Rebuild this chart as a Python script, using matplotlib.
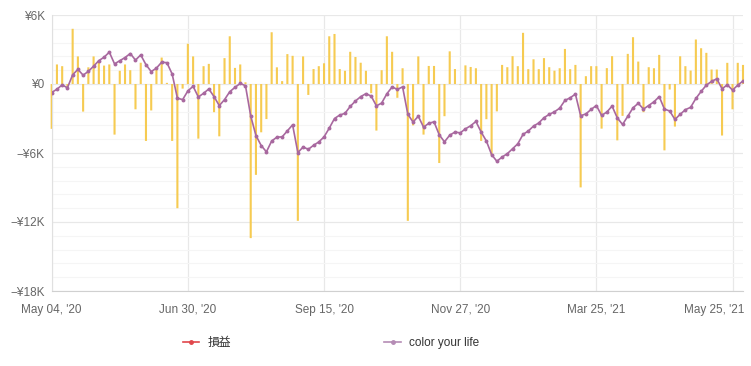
import numpy as np
import matplotlib.pyplot as plt
import matplotlib.transforms as mtransforms
from matplotlib.lines import Line2D
from matplotlib.ticker import FuncFormatter, MultipleLocator

plt.rcParams['font.family'] = ['Liberation Sans', 'Noto Sans CJK JP']

# daily P/L bars, thousand yen
daily_pnl = [
    -3.9, 1.7, 1.55, -0.4, 4.8, 2.4, -2.4, 1.45, 2.4, 2.0,
    1.6, 1.7, -4.4, 1.15, 1.7, 1.2, -2.2, 1.85, -4.95, -2.3,
    1.25, 2.3, 0.1, -4.95, -10.8, -0.4, 3.5, 2.4, -4.75, 1.55,
    1.75, -2.45, -4.55, 2.25, 4.15, 1.4, 1.7, 0.15, -13.4, -7.9,
    -4.2, -3.05, 4.5, 1.45, 0.25, 2.6, 2.45, -11.9, 2.4, -0.95,
    1.3, 1.55, 1.8, 4.15, 4.35, 1.3, 1.15, 2.8, 2.35, 1.85,
    1.15, -0.8, -4.05, 1.2, 4.15, 2.8, -1.2, 1.37, -11.9, -3.6,
    2.4, -4.4, 1.57, 1.57, -6.87, -2.8, 2.84, 1.3, -0.05, 1.62,
    1.48, 1.37, -4.95, -3.06, -6.2, -2.38, 1.66, 1.46, 2.42, 1.55,
    4.45, 1.29, 2.15, 1.29, 2.25, 1.46, 1.16, 1.37, 3.05, 1.29,
    1.66, -8.99, 0.68, 1.55, 1.55, -3.88, 1.38, 2.42, -4.9, -2.77,
    2.62, 4.07, 1.95, -2.45, 1.46, 1.37, 2.53, -5.77, -0.48, -3.7,
    2.41, 1.55, 1.17, 3.87, 3.11, 2.71, 1.26, 1.26, -4.48, 1.84,
    -2.2, 1.84, 1.66,
]

# "color your life" line, thousand yen
color_your_life = [
    -0.74, -0.45, -0.08, -0.33, 0.8, 1.27, 0.77, 1.1, 1.55, 2.03,
    2.33, 2.77, 1.75, 2.02, 2.3, 2.65, 2.08, 2.53, 1.68, 1.08,
    1.38, 1.9, 1.85, 0.87, -1.23, -1.36, -0.6, -0.2, -1.13, -0.81,
    -0.43, -1.1, -1.88, -1.36, -0.67, -0.29, 0.05, -0.15, -2.78, -4.48,
    -5.35, -5.9, -4.96, -4.62, -4.6, -4.08, -3.55, -5.97, -5.48, -5.68,
    -5.33, -5.04, -4.6, -3.84, -3.0, -2.7, -2.55, -1.95, -1.48, -1.1,
    -0.84, -1.05, -1.9, -1.66, -0.85, -0.26, -0.47, -0.25, -2.63, -3.31,
    -2.8, -3.75, -3.42, -3.29, -4.42, -5.03, -4.45, -4.18, -4.25, -3.9,
    -3.63, -3.26, -4.18, -4.96, -6.14, -6.72, -6.35, -6.06, -5.63, -5.2,
    -4.38, -4.09, -3.66, -3.39, -2.93, -2.64, -2.42, -2.1, -1.43, -1.2,
    -0.88, -2.76, -2.6, -2.21, -1.87, -2.73, -2.44, -1.92, -2.95, -3.52,
    -2.81, -2.07, -1.68, -2.18, -1.87, -1.55, -1.1, -2.18, -2.35, -3.08,
    -2.64, -2.23, -2.03, -1.26, -0.65, -0.1, 0.23, 0.45, -0.42, -0.07,
    -0.53, -0.1, 0.26,
]

tick_labels = ["May 04, '20", "Jun 30, '20", "Sep 15, '20",
               "Nov 27, '20", "Mar 25, '21", "May 25, '21"]
tick_step = 26

bars = np.array(daily_pnl) * 1000
line = np.array(color_your_life) * 1000
x = np.arange(len(bars))

fig = plt.figure(figsize=(7.51, 3.66), dpi=100)
ax = fig.add_axes([51.7 / 751, 1 - 291 / 366, (743 - 51.7) / 751, 276 / 366])

# no pixel snapping so every bar comes out the same width
ax.bar(x, bars, width=0.4, color='#f6cb52', linewidth=0, zorder=2,
       clip_on=False, snap=False)
ax.plot(x, line, color='#a8689f', lw=1.2, marker='o', ms=2.8,
        markerfacecolor='#a8689f', markeredgewidth=0, zorder=3)

ax.set_xlim(0, len(bars) - 1)
ax.set_ylim(-18000, 6000)

def yen(v, pos):
    k = int(round(v / 1000))
    if k == 0:
        return '¥0'
    if k < 0:
        return '−¥%dK' % -k
    return '¥%dK' % k

ax.yaxis.set_major_locator(MultipleLocator(6000))
ax.yaxis.set_minor_locator(MultipleLocator(1200))
ax.yaxis.set_major_formatter(FuncFormatter(yen))
ax.set_xticks(np.arange(len(tick_labels)) * tick_step)
ax.set_xticklabels(tick_labels)

ax.grid(which='major', axis='both', color='#e8e8e8', lw=0.9, zorder=0)
ax.grid(which='minor', axis='y', color='#f5f5f5', lw=0.8, zorder=0)
ax.set_axisbelow(True)

ax.tick_params(axis='both', which='both', length=0, colors='#666666', labelsize=8.5)
ax.tick_params(axis='x', pad=9)
ax.tick_params(axis='y', pad=5)

# last label is pulled back inside the chart like the original
last = ax.get_xticklabels()[-1]
last.set_transform(last.get_transform() +
                   mtransforms.ScaledTranslation(-0.185, 0, fig.dpi_scale_trans))

for side in ['top', 'right']:
    ax.spines[side].set_visible(False)
ax.spines['left'].set_color('#e0e0e0')
ax.spines['bottom'].set_color('#d0d0d0')

handles = [
    Line2D([0], [0], color='#e0474c', lw=1.2, marker='o', ms=2.5),
    Line2D([0], [0], color='#b58cb5', lw=1.2, marker='o', ms=2.5),
]
fig.legend(handles, ['損益', 'color your life'], ncol=2, frameon=False,
           loc='center left', bbox_to_anchor=(172 / 751, 1 - 343 / 366),
           fontsize=8.5, handlelength=1.4, handletextpad=0.7,
           columnspacing=13, labelcolor='#333333')

fig.savefig('out.png', dpi=100, facecolor='white')
